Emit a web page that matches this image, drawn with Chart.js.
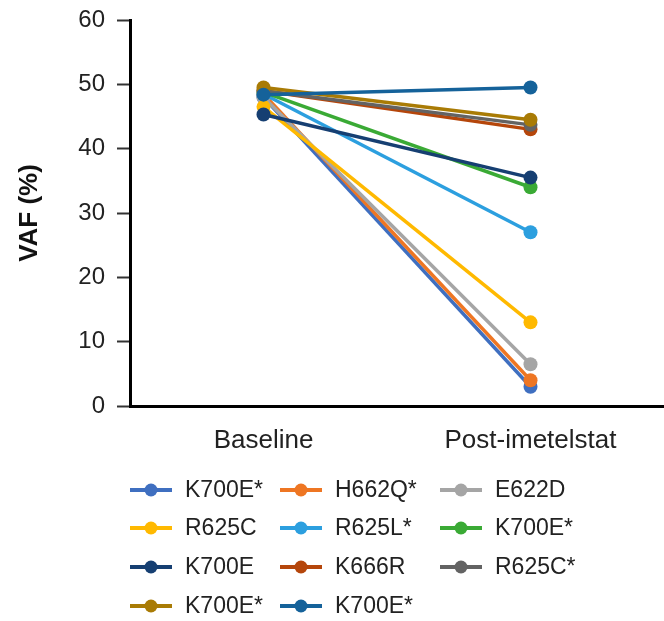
<!DOCTYPE html>
<html>
<head>
<meta charset="utf-8">
<script src="https://cdn.jsdelivr.net/npm/chart.js@4/dist/chart.umd.min.js"></script>
<style>
  html, body { margin: 0; padding: 0; background: #fff; }
  #wrap { width: 664px; height: 621px; }
</style>
</head>
<body>
<div id="wrap"><canvas id="c"></canvas></div>
<script>
const timepoints = ["Baseline", "Post-imetelstat"];
const mutations = ["K700E*", "H662Q*", "E622D", "R625C", "R625L*", "K700E*",
                   "K700E", "K666R", "R625C*", "K700E*", "K700E*"];
const baseline = [48, 48.5, 48, 46.5, 48.5, 48.8, 45.3, 49, 49, 49.5, 48.4];
const postTx   = [3, 4, 6.5, 13, 27, 34, 35.5, 43, 43.7, 44.5, 49.5];
const colors = ["#3f6fc0", "#ee7623", "#a5a5a5", "#ffb900", "#2c9fdf", "#3aaa35",
                "#163f72", "#b5460b", "#636363", "#a97b05", "#15629a"];
const yTicks = [0, 10, 20, 30, 40, 50, 60];

const FONT = '"Liberation Sans", Arial, sans-serif';

const datasets = mutations.map((m, i) => ({
    label: m,
    data: [baseline[i], postTx[i]],
    borderColor: colors[i],
    backgroundColor: colors[i],
    borderWidth: 3.5,
    pointRadius: 7,
    pointHoverRadius: 7,
    pointBorderWidth: 0,
    order: mutations.length - i   // later series drawn on top
}));

// legend drawn as a 3-column grid below the plot
const gridLegend = {
    id: 'gridLegend',
    afterDraw(chart) {
        const ctx = chart.ctx;
        const colX = [130, 280, 440];
        const rowY = [490, 528, 567, 606];
        ctx.save();
        ctx.font = '23px ' + FONT;
        ctx.textBaseline = 'middle';
        mutations.forEach((m, i) => {
            const x = colX[i % 3], y = rowY[Math.floor(i / 3)];
            ctx.strokeStyle = colors[i];
            ctx.lineWidth = 4;
            ctx.beginPath();
            ctx.moveTo(x, y);
            ctx.lineTo(x + 42, y);
            ctx.stroke();
            ctx.fillStyle = colors[i];
            ctx.beginPath();
            ctx.arc(x + 21, y, 6.5, 0, Math.PI * 2);
            ctx.fill();
            ctx.fillStyle = '#222';
            ctx.fillText(m, x + 55, y + 1);
        });
        ctx.restore();
    }
};

new Chart(document.getElementById('c'), {
    type: 'line',
    data: { labels: timepoints, datasets: datasets },
    options: {
        responsive: true,
        maintainAspectRatio: false,
        animation: false,
        layout: { autoPadding: false, padding: { top: 20, right: -5, left: 0, bottom: 0 } },
        plugins: {
            legend: { display: false },
            tooltip: { enabled: false }
        },
        scales: {
            x: {
                offset: true,
                afterFit: s => { s.height = 215; s.paddingLeft = 0; s.paddingRight = 0; },
                grid: { display: true, drawOnChartArea: false, drawTicks: false },
                border: { display: true, color: '#000', width: 3 },
                ticks: {
                    padding: 19,
                    color: '#222',
                    font: { size: 26, family: FONT }
                }
            },
            y: {
                min: 0,
                max: 60,
                afterFit: s => { s.width = 130; s.paddingTop = 0; s.paddingBottom = 0; },
                afterBuildTicks: s => { s.ticks = yTicks.map(v => ({ value: v })); },
                grid: { drawOnChartArea: false, drawTicks: true, tickLength: 13, tickWidth: 2, color: '#333' },
                border: { display: true, color: '#000', width: 3 },
                ticks: {
                    padding: 12,
                    color: '#222',
                    font: { size: 24, family: FONT }
                },
                title: {
                    display: true,
                    text: 'VAF (%)',
                    color: '#111',
                    padding: { top: 14, bottom: 4 },
                    font: { size: 26, weight: 'bold', family: FONT }
                }
            }
        }
    },
    plugins: [gridLegend]
});
</script>
</body>
</html>
